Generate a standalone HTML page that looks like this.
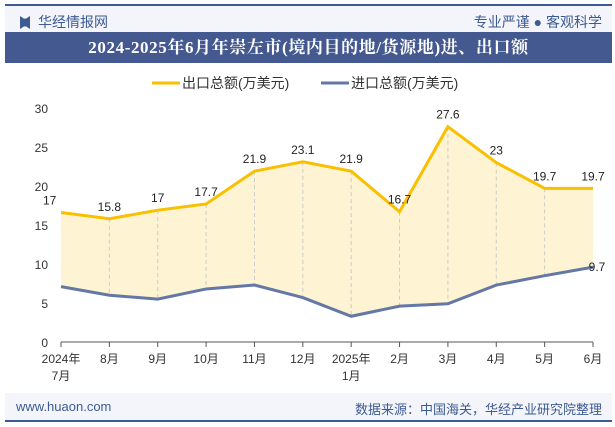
<!DOCTYPE html>
<html><head><meta charset="utf-8"><style>
body{margin:0;width:615px;height:427px;background:#fff;font-family:"Liberation Sans","Noto Sans CJK SC",sans-serif;overflow:hidden;position:relative}
.a{position:absolute}
</style></head><body>
<div class="a" style="left:5px;top:4px;width:607px;height:2px;background:#3d5a92"></div>
<div class="a" style="left:5px;top:6px;width:607px;height:26px;background:#f3f5fa"></div>
<div class="a" style="left:20px;top:12px;font-size:14px;color:#3d5a92"><span style="display:inline-block;width:10px;height:13px;background:#3d5a92;vertical-align:-2px;margin-right:8px;clip-path:polygon(0 0,40% 20%,60% 20%,100% 0,100% 100%,60% 80%,40% 80%,0 100%)"></span>华经情报网</div>
<div class="a" style="right:13px;top:12px;font-size:14px;color:#3d5a92">专业严谨 ● 客观科学</div>
<div class="a" style="left:5px;top:32px;width:607px;height:31px;background:#44598f;color:#fff;font-weight:bold;font-size:17px;letter-spacing:0.6px;line-height:31px;text-align:center;font-family:'Liberation Serif','Noto Serif CJK SC',serif">2024-2025年6月年崇左市(境内目的地/货源地)进、出口额</div>
<div class="a" style="left:5px;top:393px;width:607px;height:27px;background:#f3f5fa"></div>
<div class="a" style="left:5px;top:420px;width:607px;height:2px;background:#3d5a92"></div>
<div class="a" style="left:16px;top:399px;font-size:13px;color:#3d5a92">www.huaon.com</div>
<div class="a" style="right:13px;top:399px;font-size:13px;color:#3d5a92">数据来源：中国海关，华经产业研究院整理</div>
<svg class="a" style="left:0;top:0" width="615" height="427" id="c"></svg>
<script>
const categories=["2024年|7月","8月","9月","10月","11月","12月","2025年|1月","2月","3月","4月","5月","6月"];
const exportVals=[16.6,15.8,16.9,17.7,21.9,23.1,21.9,16.7,27.6,23,19.7,19.7];
const exportLabels=["17","15.8","17","17.7","21.9","23.1","21.9","16.7","27.6","23","19.7","19.7"];
const importVals=[7.1,6.0,5.5,6.8,7.3,5.7,3.3,4.6,4.9,7.3,8.5,9.6];
const importLastLabel="9.7";
const yTicks=[0,5,10,15,20,25,30];
const svg=document.getElementById('c');const NS='http://www.w3.org/2000/svg';
const x=i=>61+i*(593-61)/(categories.length-1);
const y=v=>342-v*7.8;
function el(t,a,p){const e=document.createElementNS(NS,t);for(const k in a)e.setAttribute(k,a[k]);(p||svg).appendChild(e);return e;}
let g=el('g',{});
el('line',{x1:152,y1:83,x2:180,y2:83,stroke:'#f9c000','stroke-width':3},g);
let t=el('text',{x:182,y:88,'font-size':14,fill:'#333'},g);t.textContent='出口总额(万美元)';
el('line',{x1:321,y1:83,x2:349,y2:83,stroke:'#6378a6','stroke-width':3},g);
t=el('text',{x:351,y:88,'font-size':14,fill:'#333'},g);t.textContent='进口总额(万美元)';
yTicks.forEach(v=>{const e=el('text',{x:48,y:y(v)+5,'font-size':12,fill:'#333','text-anchor':'end'});e.textContent=v;
});
let d='M'+exportVals.map((v,i)=>x(i)+','+y(v)).join('L')+'L'+importVals.map((v,i)=>x(i)+','+y(v)).reverse().join('L')+'Z';
let a=el('path',{d:d,fill:'#fef3d2'});
exportVals.forEach((v,i)=>{if(i>0&&i<categories.length-1){const l=el('line',{x1:x(i),x2:x(i),y1:y(v),y2:y(importVals[i]),stroke:'#ccc','stroke-dasharray':'4,3'});}});
el('line',{x1:61,x2:593,y1:342,y2:342,stroke:'#555'});
categories.forEach((c,i)=>{el('line',{x1:x(i),x2:x(i),y1:342,y2:347,stroke:'#555'});
c.split('|').forEach((s,j)=>{const e=el('text',{x:x(i),y:363+j*17,'font-size':12,fill:'#333','text-anchor':'middle'});e.textContent=s;
});});
let p=el('path',{d:'M'+exportVals.map((v,i)=>x(i)+','+y(v)).join('L'),fill:'none',stroke:'#f9c000','stroke-width':3});

p=el('path',{d:'M'+importVals.map((v,i)=>x(i)+','+y(v)).join('L'),fill:'none',stroke:'#6378a6','stroke-width':3});

exportVals.forEach((v,i)=>{const e=el('text',{x:x(i)+(i==0?-18:0),y:y(v)-8,'font-size':12,fill:'#222','text-anchor':i==0?'start':'middle'});e.textContent=exportLabels[i];
});
t=el('text',{x:x(11)+4,y:y(importVals[11])+4,'font-size':12,fill:'#222','text-anchor':'middle'});t.textContent=importLastLabel;

</script>
</body></html>
